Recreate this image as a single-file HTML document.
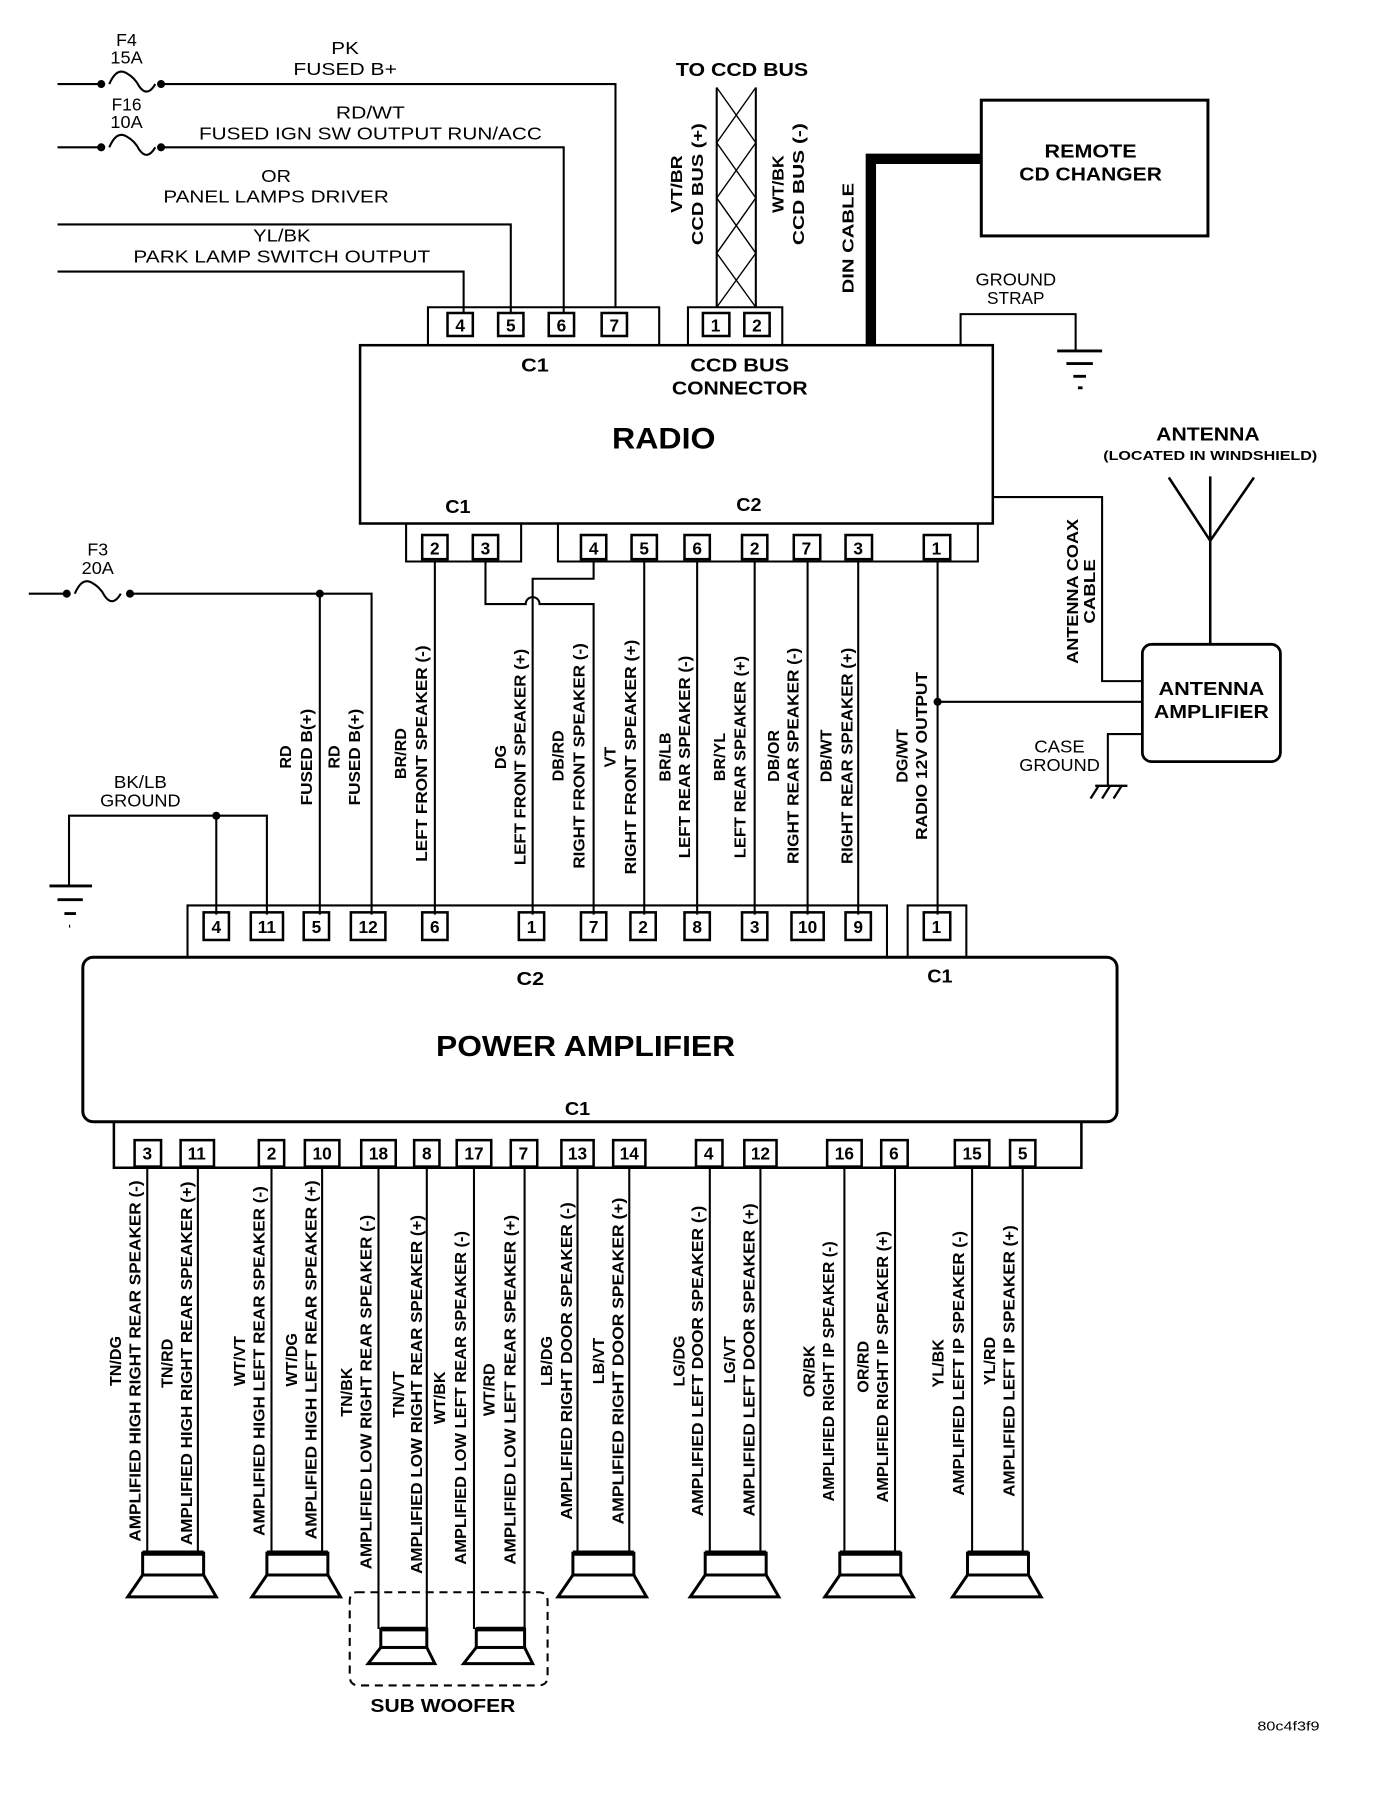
<!DOCTYPE html>
<html><head><meta charset="utf-8"><style>
html,body{margin:0;padding:0;background:#fff;}
svg{display:block;}
text{font-family:"Liberation Sans",Arial,sans-serif;fill:#000;}
.n{font-size:15px;}
.b{font-weight:bold;}
.r{font-size:14px;font-weight:bold;}
.p{font-size:15px;font-weight:bold;}
</style></head><body>
<svg width="1392" height="1804" viewBox="0 0 1210 1568" xmlns="http://www.w3.org/2000/svg">
<g fill="none" stroke="#000" stroke-width="1.8">
<!-- top wires -->
<path d="M50 73H88M140 73H535V267"/>
<path d="M50 128H88M140 128H490V272"/>
<path d="M50 195H444V272"/>
<path d="M50 236H403V272"/>
<path d="M95 73q6 -14 14 -10t12 12q7 10 14 -2" />
<path d="M95 128q6 -14 14 -10t12 12q7 10 14 -2" />
<!-- radio C1 connector -->
<path d="M372 300V267H573V300"/>
<rect x="389" y="272" width="22" height="20" stroke-width="2.2"/>
<rect x="433" y="272" width="22" height="20" stroke-width="2.2"/>
<rect x="477" y="272" width="22" height="20" stroke-width="2.2"/>
<rect x="523" y="272" width="22" height="20" stroke-width="2.2"/>
<!-- CCD -->
<path d="M598 300V267H680V300"/>
<rect x="611" y="272" width="23" height="20" stroke-width="2.2"/>
<rect x="647" y="272" width="22" height="20" stroke-width="2.2"/>
<path d="M623 76V267M657 76V267"/>
<path d="M623 76L657 124L623 172L657 220L623 267M657 76L623 124L657 172L623 220L657 267" stroke-width="1.2"/>
<!-- radio box -->
<rect x="313" y="300" width="550" height="155" stroke-width="2.2"/>
<!-- DIN cable -->
<path d="M757 300V138H853" stroke-width="9"/>
<rect x="853" y="87" width="197" height="118" stroke-width="2.6"/>
<!-- ground strap -->
<path d="M835 300V273H935V305"/>
<path d="M919 305H958M927 316H950M933 327H944M937 337H941" stroke-width="2.5"/>
<!-- antenna -->
<path d="M1016 415L1052 470L1090 415M1052 414V560" stroke-width="2.2"/>
<rect x="993" y="560" width="120" height="102" rx="8" stroke-width="2.4"/>
<path d="M863 432H958V592H993"/>
<path d="M815 610H993"/>
<path d="M993 638H963V683"/>
<path d="M952 683H980M955 683L948 694M965 683L958 694M975 683L968 694" stroke-width="2"/>
<!-- radio bottom connectors -->
<path d="M353 455V488H453V455"/>
<rect x="367" y="465" width="22" height="21" stroke-width="2.2"/>
<rect x="411" y="465" width="22" height="21" stroke-width="2.2"/>
<path d="M485 455V488H850V455"/>
<rect x="505" y="465" width="22" height="21" stroke-width="2.2"/>
<rect x="549" y="465" width="22" height="21" stroke-width="2.2"/>
<rect x="595" y="465" width="22" height="21" stroke-width="2.2"/>
<rect x="645" y="465" width="22" height="21" stroke-width="2.2"/>
<rect x="690" y="465" width="23" height="21" stroke-width="2.2"/>
<rect x="735" y="465" width="23" height="21" stroke-width="2.2"/>
<rect x="803" y="465" width="23" height="21" stroke-width="2.2"/>
<!-- radio to amp wires -->
<path d="M378 488V795"/>
<path d="M422 488V525H457a6 6 0 0 1 12 0H516V795"/>
<path d="M516 488V503H463V795"/>
<path d="M560 488V795M606 488V795M656 488V795M702 488V795M746 488V795M815 488V795"/>
<!-- F3 -->
<path d="M25 516H58M113 516H323V795M278 516V795"/>
<path d="M65 516q6 -14 14 -10t12 12q7 10 14 -2"/>
<!-- ground BK/LB -->
<path d="M60 770V709H232V795M188 709V795"/>
<path d="M43 770H80M50 782H72M56 794H66M60 805H61" stroke-width="2.5"/>
<!-- amp C2 -->
<path d="M163 832V787H771V832"/>
<rect x="177" y="793" width="22" height="24" stroke-width="2.2"/>
<rect x="218" y="793" width="28" height="24" stroke-width="2.2"/>
<rect x="264" y="793" width="22" height="24" stroke-width="2.2"/>
<rect x="305" y="793" width="30" height="24" stroke-width="2.2"/>
<rect x="367" y="793" width="22" height="24" stroke-width="2.2"/>
<rect x="451" y="793" width="22" height="24" stroke-width="2.2"/>
<rect x="505" y="793" width="22" height="24" stroke-width="2.2"/>
<rect x="548" y="793" width="22" height="24" stroke-width="2.2"/>
<rect x="595" y="793" width="22" height="24" stroke-width="2.2"/>
<rect x="645" y="793" width="22" height="24" stroke-width="2.2"/>
<rect x="688" y="793" width="28" height="24" stroke-width="2.2"/>
<rect x="735" y="793" width="22" height="24" stroke-width="2.2"/>
<path d="M789 832V787H840V832"/>
<rect x="803" y="793" width="23" height="24" stroke-width="2.2"/>
<!-- amp box -->
<rect x="72" y="832" width="899" height="143" rx="9" stroke-width="2.6"/>
<!-- amp C1 bottom -->
<path d="M99 975V1015H940V975" stroke-width="2.2"/>
<g stroke-width="2.2">
<rect x="117" y="991" width="23" height="23"/>
<rect x="157" y="991" width="29" height="23"/>
<rect x="225" y="991" width="22" height="23"/>
<rect x="265" y="991" width="30" height="23"/>
<rect x="314" y="991" width="30" height="23"/>
<rect x="360" y="991" width="22" height="23"/>
<rect x="397" y="991" width="30" height="23"/>
<rect x="444" y="991" width="23" height="23"/>
<rect x="488" y="991" width="28" height="23"/>
<rect x="533" y="991" width="28" height="23"/>
<rect x="605" y="991" width="23" height="23"/>
<rect x="647" y="991" width="28" height="23"/>
<rect x="719" y="991" width="30" height="23"/>
<rect x="766" y="991" width="23" height="23"/>
<rect x="830" y="991" width="30" height="23"/>
<rect x="878" y="991" width="22" height="23"/>
</g>
<!-- speaker wires -->
<path d="M128 1015V1350M172 1015V1350M236 1015V1350M280 1015V1350M502 1015V1350M547 1015V1350M617 1015V1350M661 1015V1350M734 1015V1350M778 1015V1350M845 1015V1350M889 1015V1350"/>
<path d="M329 1015V1416M371 1015V1416M412 1015V1416M456 1015V1416"/>
<!-- sub woofer box -->
<path d="M310 1384H468Q476 1384 476 1392V1457Q476 1465 468 1465H312Q304 1465 304 1457V1392Q304 1384 310 1384Z" stroke-dasharray="7 5"/>
</g>
<!-- speakers -->
<g fill="none" stroke="#000" stroke-width="2.6">
<g id="spk"><rect x="124" y="1350" width="53" height="19"/><path d="M124 1350H177" stroke-width="4.5"/><path d="M124 1369L111 1388H188L177 1369"/></g>
<use href="#spk" x="108"/>
<use href="#spk" x="374"/>
<use href="#spk" x="489"/>
<use href="#spk" x="606"/>
<use href="#spk" x="717"/>
<g><rect x="331" y="1416" width="40" height="16"/><path d="M331 1416H371" stroke-width="4"/><path d="M331 1432L320 1446H378L371 1432"/></g>
<g><rect x="414" y="1416" width="42" height="16"/><path d="M414 1416H456" stroke-width="4"/><path d="M414 1432L403 1446H463L456 1432"/></g>
</g>
<!-- dots -->
<g fill="#000">
<circle cx="88" cy="73" r="3.5"/><circle cx="140" cy="73" r="3.5"/>
<circle cx="88" cy="128" r="3.5"/><circle cx="140" cy="128" r="3.5"/>
<circle cx="58" cy="516" r="3.5"/><circle cx="113" cy="516" r="3.5"/><circle cx="278" cy="516" r="3.5"/>
<circle cx="188" cy="709" r="3.5"/><circle cx="815" cy="610" r="3.5"/>
</g>
<!-- texts top -->
<g class="n" text-anchor="middle">
<text x="110" y="40" textLength="18" lengthAdjust="spacingAndGlyphs">F4</text>
<text x="110" y="55" textLength="28" lengthAdjust="spacingAndGlyphs">15A</text>
<text x="300" y="47" textLength="24" lengthAdjust="spacingAndGlyphs">PK</text>
<text x="300" y="65" textLength="90" lengthAdjust="spacingAndGlyphs">FUSED B+</text>
<text x="110" y="96" textLength="26" lengthAdjust="spacingAndGlyphs">F16</text>
<text x="110" y="111" textLength="28" lengthAdjust="spacingAndGlyphs">10A</text>
<text x="322" y="103" textLength="60" lengthAdjust="spacingAndGlyphs">RD/WT</text>
<text x="322" y="121" textLength="298" lengthAdjust="spacingAndGlyphs">FUSED IGN SW OUTPUT RUN/ACC</text>
<text x="240" y="158" textLength="26" lengthAdjust="spacingAndGlyphs">OR</text>
<text x="240" y="176" textLength="196" lengthAdjust="spacingAndGlyphs">PANEL LAMPS DRIVER</text>
<text x="245" y="210" textLength="50" lengthAdjust="spacingAndGlyphs">YL/BK</text>
<text x="245" y="228" textLength="258" lengthAdjust="spacingAndGlyphs">PARK LAMP SWITCH OUTPUT</text>
<text x="883" y="248" textLength="70" lengthAdjust="spacingAndGlyphs">GROUND</text>
<text x="883" y="264" textLength="50" lengthAdjust="spacingAndGlyphs">STRAP</text>
<text x="921" y="654" textLength="44" lengthAdjust="spacingAndGlyphs">CASE</text>
<text x="921" y="670" textLength="70" lengthAdjust="spacingAndGlyphs">GROUND</text>
<text x="85" y="483" textLength="18" lengthAdjust="spacingAndGlyphs">F3</text>
<text x="85" y="499" textLength="28" lengthAdjust="spacingAndGlyphs">20A</text>
<text x="122" y="685" textLength="46" lengthAdjust="spacingAndGlyphs">BK/LB</text>
<text x="122" y="701" textLength="70" lengthAdjust="spacingAndGlyphs">GROUND</text>
</g>
<g class="b" text-anchor="middle" font-size="16">
<text x="645" y="66" textLength="115" lengthAdjust="spacingAndGlyphs">TO CCD BUS</text>
<text x="948" y="137" textLength="80" lengthAdjust="spacingAndGlyphs">REMOTE</text>
<text x="948" y="157" textLength="124" lengthAdjust="spacingAndGlyphs">CD CHANGER</text>
<text x="465" y="323" textLength="24" lengthAdjust="spacingAndGlyphs">C1</text>
<text x="643" y="323" textLength="86" lengthAdjust="spacingAndGlyphs">CCD BUS</text>
<text x="643" y="343" textLength="118" lengthAdjust="spacingAndGlyphs">CONNECTOR</text>
<text x="398" y="446" textLength="22" lengthAdjust="spacingAndGlyphs">C1</text>
<text x="651" y="444" textLength="22" lengthAdjust="spacingAndGlyphs">C2</text>
<text x="1050" y="383" textLength="90" lengthAdjust="spacingAndGlyphs">ANTENNA</text>
<text x="1053" y="604" textLength="92" lengthAdjust="spacingAndGlyphs">ANTENNA</text>
<text x="1053" y="624" textLength="100" lengthAdjust="spacingAndGlyphs">AMPLIFIER</text>
<text x="461" y="856" textLength="24" lengthAdjust="spacingAndGlyphs">C2</text>
<text x="817" y="854" textLength="22" lengthAdjust="spacingAndGlyphs">C1</text>
<text x="502" y="969" textLength="22" lengthAdjust="spacingAndGlyphs">C1</text>
<text x="385" y="1488" textLength="126" lengthAdjust="spacingAndGlyphs">SUB WOOFER</text>
</g>
<text x="577" y="390" text-anchor="middle" class="b" font-size="26" textLength="90" lengthAdjust="spacingAndGlyphs">RADIO</text>
<text x="509" y="918" text-anchor="middle" class="b" font-size="25" textLength="260" lengthAdjust="spacingAndGlyphs">POWER AMPLIFIER</text>
<text x="1052" y="400" text-anchor="middle" class="b" font-size="11" textLength="186" lengthAdjust="spacingAndGlyphs">(LOCATED IN WINDSHIELD)</text>
<text x="1120" y="1504" text-anchor="middle" font-size="11" textLength="54" lengthAdjust="spacingAndGlyphs">80c4f3f9</text>
<!-- pin numbers -->
<g class="p" text-anchor="middle">
<text x="400" y="288">4</text><text x="444" y="288">5</text><text x="488" y="288">6</text><text x="534" y="288">7</text>
<text x="622" y="288">1</text><text x="658" y="288">2</text>
<text x="378" y="482">2</text><text x="422" y="482">3</text><text x="516" y="482">4</text><text x="560" y="482">5</text><text x="606" y="482">6</text><text x="656" y="482">2</text><text x="701" y="482">7</text><text x="746" y="482">3</text><text x="814" y="482">1</text>
<text x="188" y="811">4</text><text x="232" y="811">11</text><text x="275" y="811">5</text><text x="320" y="811">12</text><text x="378" y="811">6</text><text x="462" y="811">1</text><text x="516" y="811">7</text><text x="559" y="811">2</text><text x="606" y="811">8</text><text x="656" y="811">3</text><text x="702" y="811">10</text><text x="746" y="811">9</text><text x="814" y="811">1</text>
<text x="128" y="1008">3</text><text x="171" y="1008">11</text><text x="236" y="1008">2</text><text x="280" y="1008">10</text><text x="329" y="1008">18</text><text x="371" y="1008">8</text><text x="412" y="1008">17</text><text x="455" y="1008">7</text><text x="502" y="1008">13</text><text x="547" y="1008">14</text><text x="616" y="1008">4</text><text x="661" y="1008">12</text><text x="734" y="1008">16</text><text x="777" y="1008">6</text><text x="845" y="1008">15</text><text x="889" y="1008">5</text>
</g>
<!-- rotated labels -->
<g class="r" text-anchor="middle">
<text transform="translate(593,160) rotate(-90)" textLength="50" lengthAdjust="spacingAndGlyphs">VT/BR</text>
<text transform="translate(611,160) rotate(-90)" textLength="106" lengthAdjust="spacingAndGlyphs">CCD BUS (+)</text>
<text transform="translate(681,160) rotate(-90)" textLength="50" lengthAdjust="spacingAndGlyphs">WT/BK</text>
<text transform="translate(699,160) rotate(-90)" textLength="106" lengthAdjust="spacingAndGlyphs">CCD BUS (-)</text>
<text transform="translate(742,207) rotate(-90)" textLength="96" lengthAdjust="spacingAndGlyphs">DIN CABLE</text>
<text transform="translate(937,514) rotate(-90)" textLength="126" lengthAdjust="spacingAndGlyphs">ANTENNA COAX</text>
<text transform="translate(952,514) rotate(-90)" textLength="56" lengthAdjust="spacingAndGlyphs">CABLE</text>

<text transform="translate(253,658) rotate(-90)">RD</text>
<text transform="translate(271,658) rotate(-90)" textLength="84" lengthAdjust="spacingAndGlyphs">FUSED B(+)</text>
<text transform="translate(295,658) rotate(-90)">RD</text>
<text transform="translate(313,658) rotate(-90)" textLength="84" lengthAdjust="spacingAndGlyphs">FUSED B(+)</text>
<text transform="translate(353,655) rotate(-90)">BR/RD</text>
<text transform="translate(371,655) rotate(-90)" textLength="188" lengthAdjust="spacingAndGlyphs">LEFT FRONT SPEAKER (-)</text>
<text transform="translate(440,658) rotate(-90)">DG</text>
<text transform="translate(457,658) rotate(-90)" textLength="188" lengthAdjust="spacingAndGlyphs">LEFT FRONT SPEAKER (+)</text>
<text transform="translate(490,657) rotate(-90)">DB/RD</text>
<text transform="translate(508,657) rotate(-90)" textLength="196" lengthAdjust="spacingAndGlyphs">RIGHT FRONT SPEAKER (-)</text>
<text transform="translate(535,658) rotate(-90)">VT</text>
<text transform="translate(553,658) rotate(-90)" textLength="204" lengthAdjust="spacingAndGlyphs">RIGHT FRONT SPEAKER (+)</text>
<text transform="translate(583,658) rotate(-90)">BR/LB</text>
<text transform="translate(600,658) rotate(-90)" textLength="176" lengthAdjust="spacingAndGlyphs">LEFT REAR SPEAKER (-)</text>
<text transform="translate(630,658) rotate(-90)">BR/YL</text>
<text transform="translate(648,658) rotate(-90)" textLength="176" lengthAdjust="spacingAndGlyphs">LEFT REAR SPEAKER (+)</text>
<text transform="translate(677,657) rotate(-90)">DB/OR</text>
<text transform="translate(694,657) rotate(-90)" textLength="188" lengthAdjust="spacingAndGlyphs">RIGHT REAR SPEAKER (-)</text>
<text transform="translate(723,657) rotate(-90)">DB/WT</text>
<text transform="translate(741,657) rotate(-90)" textLength="188" lengthAdjust="spacingAndGlyphs">RIGHT REAR SPEAKER (+)</text>
<text transform="translate(789,657) rotate(-90)">DG/WT</text>
<text transform="translate(806,657) rotate(-90)" textLength="146" lengthAdjust="spacingAndGlyphs">RADIO 12V OUTPUT</text>

<text transform="translate(105,1183) rotate(-90)">TN/DG</text>
<text transform="translate(122,1183) rotate(-90)" textLength="314" lengthAdjust="spacingAndGlyphs">AMPLIFIED HIGH RIGHT REAR SPEAKER (-)</text>
<text transform="translate(150,1185) rotate(-90)">TN/RD</text>
<text transform="translate(167,1185) rotate(-90)" textLength="316" lengthAdjust="spacingAndGlyphs">AMPLIFIED HIGH RIGHT REAR SPEAKER (+)</text>
<text transform="translate(213,1183) rotate(-90)">WT/VT</text>
<text transform="translate(230,1183) rotate(-90)" textLength="304" lengthAdjust="spacingAndGlyphs">AMPLIFIED HIGH LEFT REAR SPEAKER (-)</text>
<text transform="translate(258,1182) rotate(-90)">WT/DG</text>
<text transform="translate(275,1182) rotate(-90)" textLength="312" lengthAdjust="spacingAndGlyphs">AMPLIFIED HIGH LEFT REAR SPEAKER (+)</text>
<text transform="translate(306,1210) rotate(-90)">TN/BK</text>
<text transform="translate(323,1210) rotate(-90)" textLength="308" lengthAdjust="spacingAndGlyphs">AMPLIFIED LOW RIGHT REAR SPEAKER (-)</text>
<text transform="translate(351,1212) rotate(-90)">TN/VT</text>
<text transform="translate(367,1212) rotate(-90)" textLength="312" lengthAdjust="spacingAndGlyphs">AMPLIFIED LOW RIGHT REAR SPEAKER (+)</text>
<text transform="translate(387,1215) rotate(-90)">WT/BK</text>
<text transform="translate(405,1215) rotate(-90)" textLength="290" lengthAdjust="spacingAndGlyphs">AMPLIFIED LOW LEFT REAR SPEAKER (-)</text>
<text transform="translate(430,1208) rotate(-90)">WT/RD</text>
<text transform="translate(448,1208) rotate(-90)" textLength="304" lengthAdjust="spacingAndGlyphs">AMPLIFIED LOW LEFT REAR SPEAKER (+)</text>
<text transform="translate(480,1183) rotate(-90)">LB/DG</text>
<text transform="translate(497,1183) rotate(-90)" textLength="276" lengthAdjust="spacingAndGlyphs">AMPLIFIED RIGHT DOOR SPEAKER (-)</text>
<text transform="translate(525,1183) rotate(-90)">LB/VT</text>
<text transform="translate(542,1183) rotate(-90)" textLength="284" lengthAdjust="spacingAndGlyphs">AMPLIFIED RIGHT DOOR SPEAKER (+)</text>
<text transform="translate(595,1183) rotate(-90)">LG/DG</text>
<text transform="translate(611,1183) rotate(-90)" textLength="270" lengthAdjust="spacingAndGlyphs">AMPLIFIED LEFT DOOR SPEAKER (-)</text>
<text transform="translate(639,1182) rotate(-90)">LG/VT</text>
<text transform="translate(656,1182) rotate(-90)" textLength="272" lengthAdjust="spacingAndGlyphs">AMPLIFIED LEFT DOOR SPEAKER (+)</text>
<text transform="translate(708,1192) rotate(-90)">OR/BK</text>
<text transform="translate(725,1192) rotate(-90)" textLength="226" lengthAdjust="spacingAndGlyphs">AMPLIFIED RIGHT IP SPEAKER (-)</text>
<text transform="translate(755,1188) rotate(-90)">OR/RD</text>
<text transform="translate(772,1188) rotate(-90)" textLength="236" lengthAdjust="spacingAndGlyphs">AMPLIFIED RIGHT IP SPEAKER (+)</text>
<text transform="translate(820,1185) rotate(-90)">YL/BK</text>
<text transform="translate(838,1185) rotate(-90)" textLength="230" lengthAdjust="spacingAndGlyphs">AMPLIFIED LEFT IP SPEAKER (-)</text>
<text transform="translate(865,1183) rotate(-90)">YL/RD</text>
<text transform="translate(882,1183) rotate(-90)" textLength="236" lengthAdjust="spacingAndGlyphs">AMPLIFIED LEFT IP SPEAKER (+)</text>
</g>
</svg>
</body></html>
